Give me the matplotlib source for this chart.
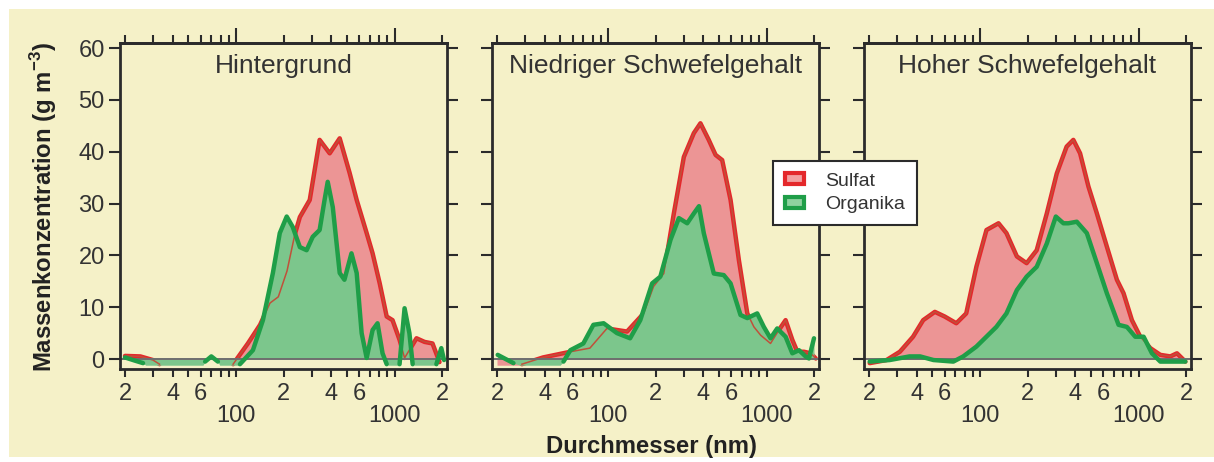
import numpy as np
import matplotlib
matplotlib.use('Agg')
import matplotlib.pyplot as plt
from matplotlib.patches import Rectangle, Patch
from matplotlib.ticker import NullLocator, NullFormatter

plt.rcParams['font.family'] = ['Liberation Sans', 'DejaVu Sans']
plt.rcParams['mathtext.fontset'] = 'custom'
plt.rcParams['mathtext.rm'] = 'Liberation Sans'
plt.rcParams['mathtext.bf'] = 'Liberation Sans:bold'

# Panel titles
titles = ['Hintergrund', 'Niedriger Schwefelgehalt', 'Hoher Schwefelgehalt']
series_names = ['Sulfat', 'Organika']

# Hintergrund
d_sulfat_1 = [20, 25, 30, 33, 34, 95, 96, 119, 142, 164, 185, 210, 235, 253, 292, 337,
              390, 451, 521, 577, 667, 727, 806, 892, 971, 1075, 1156, 1375, 1545, 1734, 1919]
m_sulfat_1 = [0.6, 0.5, -0.2, -1.0, np.nan, np.nan, -1.0, 3.0, 6.6, 10.8, 12.0, 17.0, 24.0, 27.4, 30.7, 42.3,
              39.7, 42.6, 35.9, 30.7, 24.3, 20.4, 14.6, 8.2, 7.5, 3.7, 0.2, 4.0, 3.3, 3.0, -0.6]
d_org_1 = [20, 23, 26, 27, 62, 64, 70, 77, 79, 104, 106, 128, 148, 171, 189, 209, 228, 253, 279,
           305, 337, 362, 379, 408, 451, 483, 535, 577, 620, 667, 727, 781, 840, 892, 920, 1040,
           1075, 1156, 1240, 1300, 1340, 1800, 1835, 1970, 2050]
m_org_1 = [0.3, -0.3, -0.8, -1.2, -1.2, -0.5, 0.5, -0.5, -1.2, -1.2, -1.0, 1.7, 7.5, 16.6, 24.3, 27.5, 25.5, 21.6, 21.0,
           23.6, 24.9, 30.7, 34.2, 29.3, 16.6, 15.3, 20.4, 16.6, 5.0, 0.2, 5.6, 6.9, 1.1, -1.0, -1.2, -1.2,
           -1.0, 9.8, 5.0, -1.0, -1.2, -1.2, -1.0, 2.1, -0.2]

# Niedriger Schwefelgehalt
d_sulfat_2 = [20, 28, 28.7, 39, 58, 77, 98.6, 114, 132, 168, 194, 225, 260, 301, 348, 383, 432, 477,
              525, 593, 669, 756, 832, 917, 1059, 1196, 1318, 1453, 1563, 1722, 1897, 2042]
m_sulfat_2 = [-1.2, -1.2, -1.0, 0.3, 1.4, 2.1, 5.9, 5.6, 5.3, 8.8, 14.0, 16.5, 28.0, 39.0, 43.6, 45.5, 42.3, 39.4,
              38.4, 30.7, 19.1, 8.8, 6.2, 4.6, 3.0, 5.6, 7.5, 3.7, 1.4, 1.4, 1.1, 0.1]
d_org_2 = [20.2, 25.4, 28, 50, 52.5, 58, 70, 81, 94, 114, 138, 160, 190, 214, 248, 280, 316, 348,
           375, 402, 465, 537, 593, 685, 756, 873, 961, 1059, 1167, 1318, 1453, 1600, 1762, 1850, 1990]
m_org_2 = [0.8, -0.8, -1.2, -1.2, -0.5, 1.7, 3.0, 6.6, 6.9, 5.0, 4.0, 7.5, 14.6, 15.9, 23.0, 27.2, 26.2, 28.1,
           29.5, 24.3, 16.5, 16.2, 14.6, 8.5, 7.9, 8.8, 6.2, 4.0, 5.9, 4.3, 1.1, 1.7, 0.5, 0.1, 4.0]

# Hoher Schwefelgehalt
d_sulfat_3 = [20.2, 25.8, 31.3, 37.9, 43.9, 52, 60, 71, 82, 95, 110, 131, 147, 171, 197, 228, 264,
              305, 352, 388, 428, 483, 546, 631, 730, 804, 908, 1025, 1186, 1371, 1585, 1746, 1972]
m_sulfat_3 = [-0.8, -0.2, 1.4, 4.3, 7.5, 9.1, 8.2, 6.9, 8.8, 17.8, 24.9, 26.2, 24.3, 19.8, 18.5, 21.0, 28.1,
              35.8, 41.0, 42.3, 39.7, 33.3, 28.1, 21.7, 15.3, 12.7, 7.5, 4.3, 2.1, 0.8, 0.5, 1.1, -0.5]
d_org_3 = [20.2, 27, 36, 42, 51, 68, 78.5, 95, 127, 147, 171, 197, 228, 264, 301, 336, 361, 408,
           472, 546, 631, 748, 844, 953, 1076, 1214, 1371, 1663, 1832, 1972]
m_org_3 = [-0.5, -0.2, 0.5, 0.5, -0.2, -0.5, 0.5, 2.4, 6.2, 8.8, 13.3, 15.9, 17.8, 22.3, 27.5, 26.2, 26.2, 26.5,
           24.3, 18.5, 12.7, 6.6, 6.2, 4.3, 4.3, 1.1, -0.5, -0.5, -0.5, -0.5]

panels = [
    (d_sulfat_1, m_sulfat_1, d_org_1, m_org_1),
    (d_sulfat_2, m_sulfat_2, d_org_2, m_org_2),
    (d_sulfat_3, m_sulfat_3, d_org_3, m_org_3),
]

y_ticks = [0, 10, 20, 30, 40, 50, 60]
x_ticks = [20, 30, 40, 50, 60, 70, 80, 90, 100, 200, 300, 400, 500, 600, 700, 800, 900, 1000, 2000]
x_labels = ['2', '', '4', '', '6', '', '', '', '\n100', '2', '', '4', '', '6', '', '', '', '\n1000', '2']

bg = '#f5f1c8'
red_line = '#e4282b'
red_fill = '#ec9595'
green_line = '#1f9e48'
green_fill = '#7cc68c'
ink = '#2b2b2b'

fig = plt.figure(figsize=(12.14, 4.62), dpi=100)
fig.patch.set_facecolor('white')
fig.patches.append(Rectangle((9 / 1214, 0.01), 1 - 9 / 1214, 1 - 9 / 462 - 0.01,
                             transform=fig.transFigure, facecolor=bg, edgecolor='none', zorder=-10))

lefts = [120, 492, 864]
for i, (ds, ms, do, mo) in enumerate(panels):
    ax = fig.add_axes([lefts[i] / 1214, 1 - 369 / 462, 327 / 1214, 326 / 462])
    ax.set_facecolor(bg)
    ax.set_xscale('log')

    ds = np.array(ds, dtype=float)
    ms = np.array(ms, dtype=float)
    do = np.array(do, dtype=float)
    mo = np.array(mo, dtype=float)
    ms_line = np.ma.masked_less(ms, -1.1)
    mo_line = np.ma.masked_less(mo, -1.1)

    # rote Fläche + dicke Linie, darüber grüne Fläche, dann dünne rote Linie
    ax.fill_between(ds, 0, ms, color=red_fill, lw=0, zorder=1)
    ax.plot(ds, ms_line, color=red_line, lw=3.2,
            solid_joinstyle='round', solid_capstyle='round', zorder=1.5)
    ax.fill_between(do, 0, mo, color=green_fill, lw=0, zorder=2)
    ax.plot(ds, ms_line, color='#c0503a', lw=1.1, zorder=2.2)
    ax.axhline(0, color='#6e6e6e', lw=1.4, zorder=2.5)
    ax.plot(do, mo_line, color=green_line, lw=3.2,
            solid_joinstyle='round', solid_capstyle='round', zorder=3)

    ax.set_xlim(18.6, 2140)
    ax.set_ylim(-1.93, 61.0)

    ax.set_xticks(x_ticks)
    ax.set_xticklabels(x_labels)
    ax.xaxis.set_minor_locator(NullLocator())
    for t in ax.get_xticklabels():
        t.set_linespacing(1.02)
    ax.tick_params(axis='x', direction='out', length=6, width=1.5, color=ink,
                   labelsize=17, labelcolor='#333333', pad=4)

    sec = ax.secondary_xaxis('top')
    sec.set_xticks([100, 1000])
    sec.set_xticks([t for t in x_ticks if t not in (100, 1000)], minor=True)
    sec.xaxis.set_major_formatter(NullFormatter())
    sec.xaxis.set_minor_formatter(NullFormatter())
    sec.tick_params(which='major', direction='out', length=11, width=1.5, color=ink)
    sec.tick_params(which='minor', direction='out', length=6, width=1.5, color=ink)
    sec.spines['top'].set_linewidth(2)
    sec.spines['top'].set_color(ink)

    ax.set_yticks(y_ticks)
    ax.tick_params(axis='y', direction='out', length=8, width=1.5, color=ink,
                   left=True, right=True, labelleft=(i == 0),
                   labelsize=17, labelcolor='#333333', pad=3)
    for s in ax.spines.values():
        s.set_linewidth(2)
        s.set_color(ink)

    ax.text(0.5, 0.93, titles[i], transform=ax.transAxes, ha='center', va='center',
            fontsize=19, color='#333333')

fig.text(44 / 1214, 1 - 207 / 462, 'Massenkonzentration (g m$^{\\mathbf{-3}}$)',
         rotation=90, ha='center', va='center', fontsize=17.2, fontweight='bold', color='#222222')
fig.text(651 / 1214, 1 - 447 / 462, 'Durchmesser (nm)', ha='center', va='center',
         fontsize=17.2, fontweight='bold', color='#222222')

handles = [Patch(facecolor='#f3a0a0', edgecolor=red_line, lw=3),
           Patch(facecolor='#8fd29f', edgecolor=green_line, lw=3)]
leg = fig.legend(handles, series_names, loc='upper left', bbox_to_anchor=(773 / 1214, 1 - 161 / 462),
                 fontsize=14, frameon=True, fancybox=False, framealpha=1, edgecolor=ink,
                 handlelength=1.0, handleheight=0.5, labelspacing=0.35, borderpad=0.6,
                 handletextpad=1.1, borderaxespad=0)
leg.get_frame().set_linewidth(1.5)
for t in leg.get_texts():
    t.set_color('#333333')

fig.savefig('out.png', dpi=100, facecolor=fig.get_facecolor())
